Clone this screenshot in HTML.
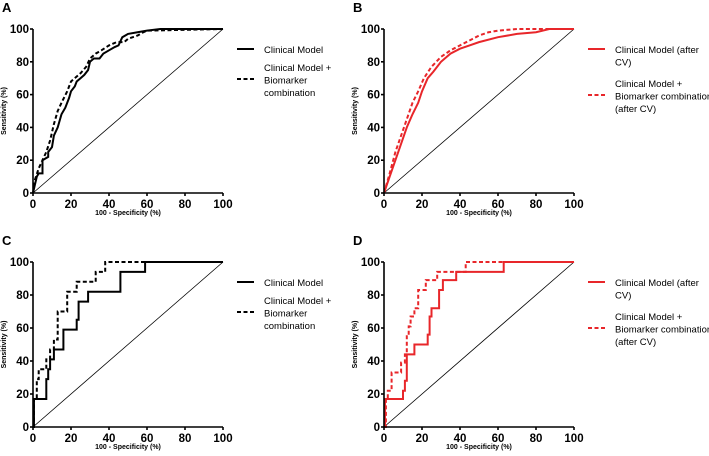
<!DOCTYPE html>
<html><head><meta charset="utf-8"><style>
body{margin:0;background:#fff;}
svg{display:block;font-family:"Liberation Sans",Arial,sans-serif;}
.tick{font-size:11.5px;font-weight:bold;text-anchor:middle;}
.ax{font-size:7px;font-weight:bold;}
.leg{font-size:9.5px;}
.pl{font-size:13px;font-weight:bold;}
</style></head><body>
<svg id="fig" width="709" height="456" viewBox="0 0 709 456"></svg>
<script>
// Panel A
const aSolidX=[0,1,2,3,5,5,8,8,10,11,13,15,17,19,20,22,23,25,27,29,30,32,35,37,40,43,45,47,50,55,60,67,100];
const aSolidY=[0,5,10,12,12,20,22,25,28,35,40,48,52,58,62,65,68,70,72,75,80,82,82,85,87,89,90,95,97,98,99,100,100];
const aDashX=[0,1,3,5,7,9,11,13,15,18,20,22,25,28,30,33,36,40,44,48,50,55,58,60,100];
const aDashY=[0,8,15,20,25,32,42,50,55,62,68,70,73,77,82,85,87,90,92,92,94,96,98,99,100];
// Panel B
const bSolidX=[0,3,6,9,12,15,18,20,23,26,30,35,40,45,50,60,70,80,87,100];
const bSolidY=[0,10,20,30,40,48,55,62,70,74,80,85,88,90,92,95,97,98,100,100];
const bDashX=[0,3,6,9,12,15,18,21,25,30,35,40,45,50,55,60,70,100];
const bDashY=[0,12,25,35,45,55,62,70,77,83,87,90,93,96,98,99,100,100];
// Panel C (step)
const cSolidX=[0,0.5,7,7,8,9,11,15,16,22,23,24,28,29,45,46,58,59,100];
const cSolidY=[0,17,17,29,35,41,47,47,59,59,65,76,76,82,82,94,94,100,100];
const cDashX=[0,0.5,2,3,6,7,9,11,13,17,18,22,23,32,33,37,38,100];
const cDashY=[0,17,29,35,35,41,47,53,70,70,82,82,88,88,94,94,100,100];
// Panel D (step)
const dSolidX=[0,0.5,9,10,11,12,16,16,22,23,24,25,28,29,31,38,38,63,63,100];
const dSolidY=[0,17,17,22,28,44,44,50,50,56,67,72,72,83,89,89,94,94,100,100];
const dDashX=[0,1,2,4,9,9,11,12,13,14,16,18,22,27,28,43,43,100];
const dDashY=[0,17,22,33,33,39,44,55,61,67,72,83,89,89,94,94,100,100];
const ticks=[0,20,40,60,80,100];

const NS="http://www.w3.org/2000/svg";
const svg=document.getElementById('fig');
function mk(t,a,p){const e=document.createElementNS(NS,t);for(const k in a)e.setAttribute(k,a[k]);(p||svg).appendChild(e);return e;}
const RED="#e8262a";
const panels=[
 {L:'A',x0:33,y0:193,sX:aSolidX,sY:aSolidY,dX:aDashX,dY:aDashY,step:false,c:"#000",off:30,leg1:["Clinical Model"],leg2:["Clinical Model +","Biomarker","combination"]},
 {L:'B',x0:384,y0:193,sX:bSolidX,sY:bSolidY,dX:bDashX,dY:bDashY,step:false,c:RED,off:46,leg1:["Clinical Model (after","CV)"],leg2:["Clinical Model +","Biomarker combination","(after CV)"]},
 {L:'C',x0:33,y0:427,sX:cSolidX,sY:cSolidY,dX:cDashX,dY:cDashY,step:true,c:"#000",off:30,leg1:["Clinical Model"],leg2:["Clinical Model +","Biomarker","combination"]},
 {L:'D',x0:384,y0:427,sX:dSolidX,sY:dSolidY,dX:dDashX,dY:dDashY,step:true,c:RED,off:46,leg1:["Clinical Model (after","CV)"],leg2:["Clinical Model +","Biomarker combination","(after CV)"]}
];
panels.forEach(p=>{
 const W=190,H=p.L==='A'||p.L==='B'?164:165;
 const sx=v=>p.x0+v/100*W, sy=v=>p.y0-v/100*H;
 const g=mk('g',{});
 
 
 const lab=mk('text',{x:p.x0-31,y:p.y0-H-17,class:'pl'},g);lab.textContent=p.L;
 
 const diag=mk('line',{x1:sx(0),y1:sy(0),x2:sx(100),y2:sy(100),stroke:'#000','stroke-width':0.8},g);
 
 function path(X,Y,dash){let d='M'+sx(X[0])+' '+sy(Y[0]);
  for(let i=1;i<X.length;i++){ if(p.step){d+=' L'+sx(X[i])+' '+sy(Y[i-1])+' L'+sx(X[i])+' '+sy(Y[i]);} else d+=' L'+sx(X[i])+' '+sy(Y[i]);}
  const e=mk('path',{d:d,fill:'none',stroke:p.c,'stroke-width':2,'stroke-dasharray':dash?'4,2.5':'none'},g);return e;}
 const s=path(p.sX,p.sY,false);
 const d=path(p.dX,p.dY,true);
 const ax=mk('path',{d:`M${sx(0)} ${sy(100)} V${sy(0)} H${sx(100)}`,fill:'none',stroke:'#000','stroke-width':1.6},g);
 
 ticks.forEach(t=>{
  mk('line',{x1:sx(t),y1:sy(0),x2:sx(t),y2:sy(0)+3,stroke:'#000','stroke-width':1.6},g);
  mk('line',{x1:sx(0)-3,y1:sy(t),x2:sx(0),y2:sy(t),stroke:'#000','stroke-width':1.6},g);
  const tx=mk('text',{x:sx(t),y:sy(0)+15,class:'tick'},g);tx.textContent=t;
  
  const ty=mk('text',{x:sx(0)-4,y:sy(t)+4,class:'tick'},g);ty.style.textAnchor='end';ty.textContent=t;
  
 });
 const xt=mk('text',{x:sx(50),y:sy(0)+22,class:'ax','text-anchor':'middle'},g);xt.textContent='100 - Specificity (%)';
 
 const yt=mk('text',{x:0,y:0,class:'ax','text-anchor':'middle',transform:`translate(${p.x0-27},${sy(50)}) rotate(-90)`},g);yt.textContent='Sensitivity (%)';
 
 const lx=sx(100)+14, ly=sy(100)+20;
 const l1=mk('line',{x1:lx,y1:ly,x2:lx+17,y2:ly,stroke:p.c,'stroke-width':2},g);
 
 p.leg1.forEach((t,i)=>{const e=mk('text',{x:lx+27,y:ly+4+i*12.5,class:'leg'},g);e.textContent=t;});
 const ly2=ly+p.off;
 const l2=mk('line',{x1:lx,y1:ly2,x2:lx+17,y2:ly2,stroke:p.c,'stroke-width':2,'stroke-dasharray':'4,2.5'},g);
 
 p.leg2.forEach((t,i)=>{const e=mk('text',{x:lx+27,y:ly2-8+i*12.5,class:'leg'},g);e.textContent=t;});
});
</script>
</body></html>
